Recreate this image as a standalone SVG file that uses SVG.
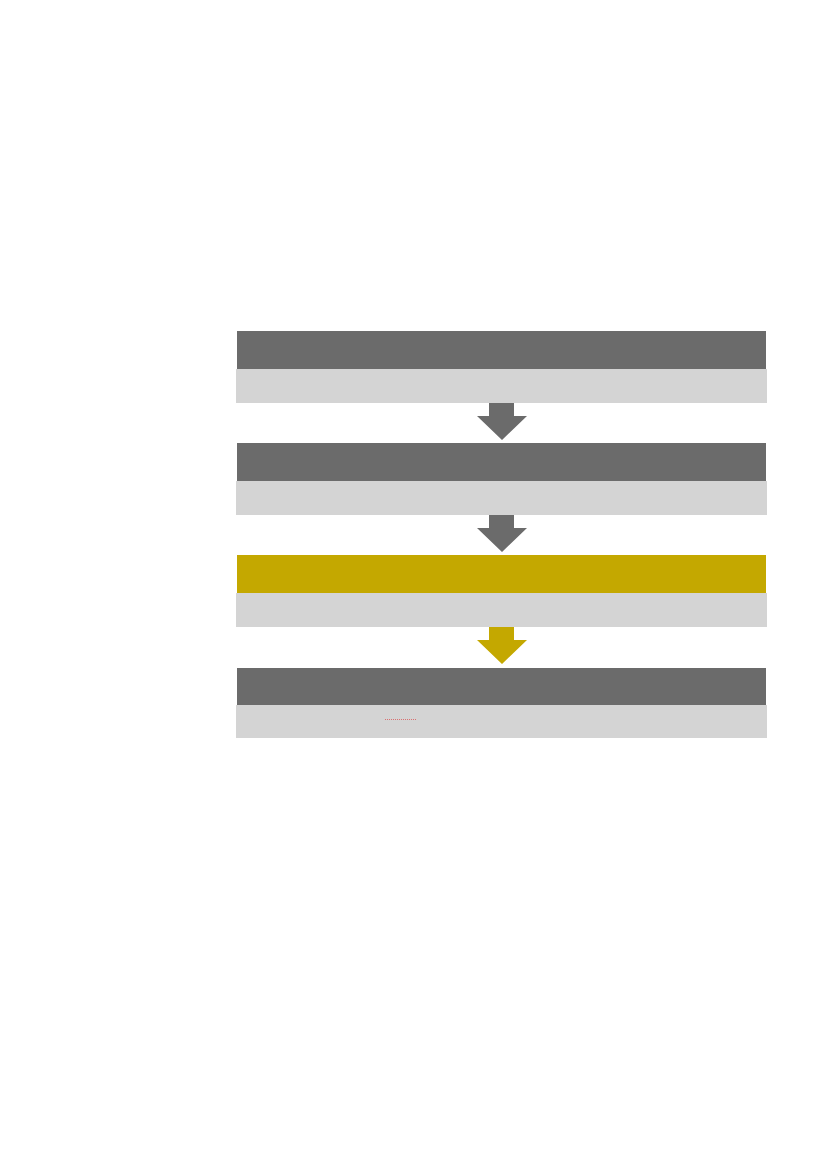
<svg xmlns="http://www.w3.org/2000/svg" width="827" height="1169" viewBox="0 0 827 1169">
<style>
.hd{fill:#6b6b6b}
.hg{fill:#c4a800}
.bd{fill:#d4d4d4}
.ar{fill:#6b6b6b}
.ag{fill:#c4a800}
</style>
<defs>
<path id="arrow" d="M489,0 H514 V13 H527 L502,37 L477,13 H489 Z"/>
</defs>
<rect width="827" height="1169" fill="#ffffff"/>
<g id="node1"><rect class="hd" x="237" y="331" width="529" height="38"/><rect class="bd" x="236" y="369" width="531" height="34"/></g>
<g id="node2"><rect class="hd" x="237" y="443" width="529" height="38"/><rect class="bd" x="236" y="481" width="531" height="34"/></g>
<g id="node3"><rect class="hg" x="237" y="555" width="529" height="38"/><rect class="bd" x="236" y="593" width="531" height="34"/></g>
<g id="node4"><rect class="hd" x="237" y="668" width="529" height="37"/><rect class="bd" x="236" y="705" width="531" height="33"/><line x1="385" y1="719.5" x2="417" y2="719.5" stroke="#d97070" stroke-width="1" stroke-dasharray="1,1"/></g>
<g id="connectors">
<use href="#arrow" class="ar" transform="translate(0,403)"/>
<use href="#arrow" class="ar" transform="translate(0,515)"/>
<use href="#arrow" class="ag" transform="translate(0,627)"/>
</g>
</svg>
